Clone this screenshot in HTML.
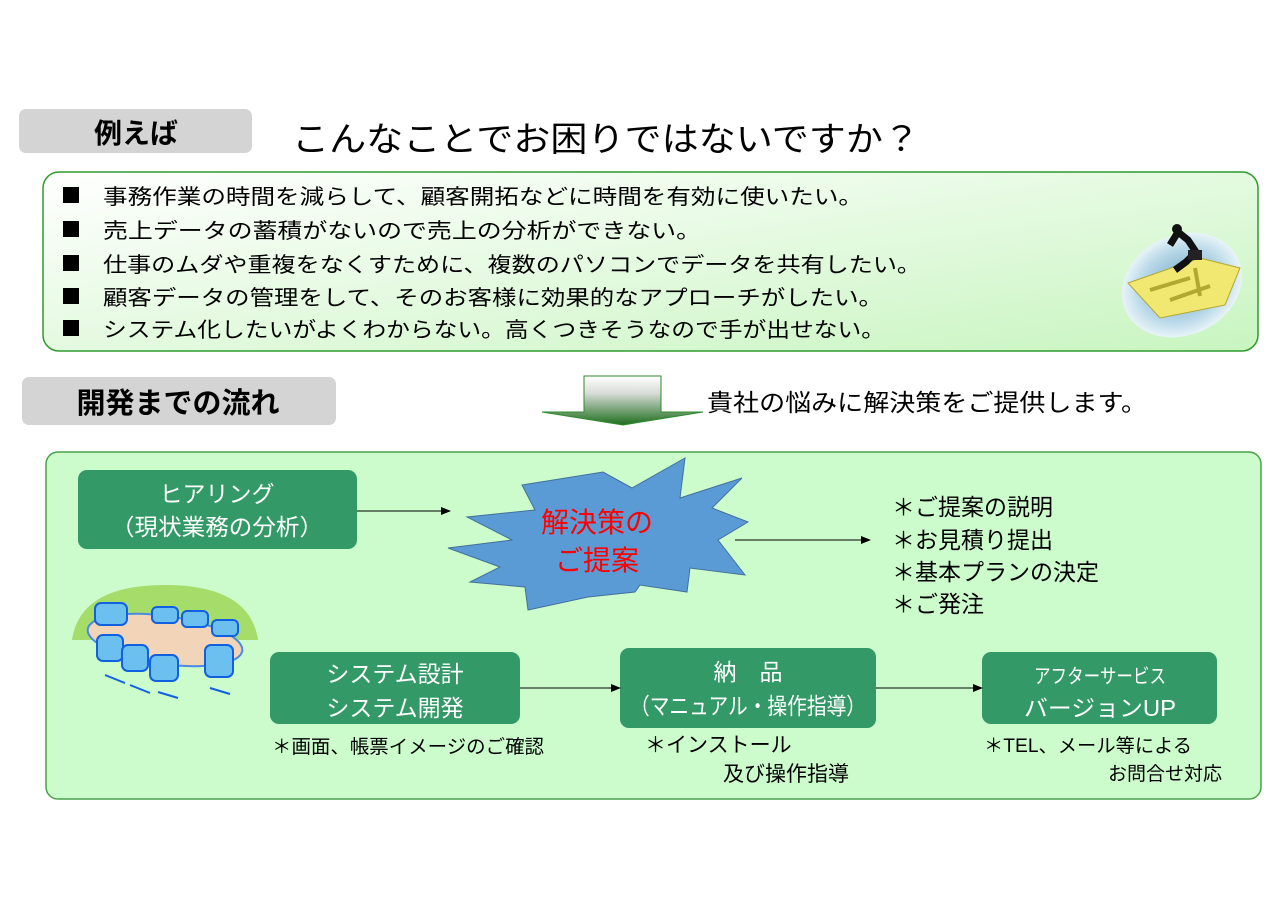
<!DOCTYPE html>
<html><head><meta charset="utf-8"><style>
html,body{margin:0;padding:0;background:#fff;}
svg{display:block;font-family:"Liberation Sans","Noto Sans CJK JP",sans-serif;}
</style></head><body>
<svg width="1280" height="905" viewBox="0 0 1280 905" xmlns="http://www.w3.org/2000/svg">
<defs>
<linearGradient id="g1" x1="0" y1="0" x2="1" y2="1">
<stop offset="0" stop-color="#ffffff"/><stop offset="0.5" stop-color="#e4fae0"/><stop offset="1" stop-color="#c8f5c0"/></linearGradient>
<linearGradient id="ga" x1="0" y1="0" x2="0" y2="1">
<stop offset="0" stop-color="#ffffff"/><stop offset="0.35" stop-color="#d8dcd8"/><stop offset="1" stop-color="#1e6e1e"/></linearGradient>
<radialGradient id="gm" cx="0.5" cy="0.5" r="0.5">
<stop offset="0" stop-color="#6fa8c0"/><stop offset="0.7" stop-color="#b8d8e8"/><stop offset="1" stop-color="#e8f4f8"/></radialGradient>
<marker id="ar" markerWidth="10" markerHeight="8" refX="9" refY="4" orient="auto" markerUnits="userSpaceOnUse"><path d="M0,0 L10,4 L0,8 z" fill="#000"/></marker>
</defs>

<rect x="19" y="109" width="233" height="44" rx="7" fill="#d4d4d4"/>
<text x="136" y="143" font-size="28" font-weight="bold" text-anchor="middle">例えば</text>
<text x="292" y="151" font-size="34" textLength="628" lengthAdjust="spacingAndGlyphs">こんなことでお困りではないですか？</text>

<rect x="43" y="172" width="1215" height="179" rx="16" fill="url(#g1)" stroke="#2e9a2e" stroke-width="1.5"/>
<g font-size="21">
<rect x="63" y="187" width="16" height="16"/><text x="103" y="204" textLength="760" lengthAdjust="spacingAndGlyphs">事務作業の時間を減らして、顧客開拓などに時間を有効に使いたい。</text>
<rect x="63" y="221" width="16" height="16"/><text x="103" y="238" textLength="598" lengthAdjust="spacingAndGlyphs">売上データの蓄積がないので売上の分析ができない。</text>
<rect x="63" y="255" width="16" height="16"/><text x="103" y="272" textLength="818" lengthAdjust="spacingAndGlyphs">仕事のムダや重複をなくすために、複数のパソコンでデータを共有したい。</text>
<rect x="63" y="288" width="16" height="16"/><text x="103" y="305" textLength="780" lengthAdjust="spacingAndGlyphs">顧客データの管理をして、そのお客様に効果的なアプローチがしたい。</text>
<rect x="63" y="320" width="16" height="16"/><text x="103" y="337" textLength="782" lengthAdjust="spacingAndGlyphs">システム化したいがよくわからない。高くつきそうなので手が出せない。</text>
</g>
<!-- maze image -->
<ellipse cx="1182" cy="285" rx="62" ry="50" fill="url(#gm)" transform="rotate(-25 1182 285)"/>
<polygon points="1128,283 1200,258 1240,268 1225,305 1160,318" fill="#f0e870" stroke="#b0a830"/>
<path d="M1150,290 L1190,278 M1170,300 L1210,286 M1195,268 L1200,296" stroke="#b0a830" stroke-width="4"/>
<path d="M1170,245 L1178,232 L1188,240 L1196,252 L1186,262 L1175,270" stroke="#111" stroke-width="7" fill="none"/>
<circle cx="1177" cy="229" r="5" fill="#111"/>
<rect x="1188" y="250" width="14" height="10" fill="#222"/>

<rect x="22" y="377" width="314" height="48" rx="7" fill="#d4d4d4"/>
<text x="178" y="413" font-size="29" font-weight="bold" text-anchor="middle">開発までの流れ</text>

<polygon points="584,376 661,376 661,412 703,412 623,425 542,412 584,412" fill="url(#ga)" stroke="#2e8a2e" stroke-width="1"/>
<text x="707" y="411" font-size="24" textLength="440" lengthAdjust="spacingAndGlyphs">貴社の悩みに解決策をご提供します。</text>

<rect x="46" y="452" width="1215" height="347" rx="12" fill="#ccfccc" stroke="#4aa04a" stroke-width="1.5"/>

<!-- conference -->
<path d="M72,640 Q80,585 165,585 Q250,585 258,640 Z" fill="#a6dc6a"/>
<ellipse cx="165" cy="640" rx="78" ry="24" fill="#f2d4b8" stroke="#4a8ae0" stroke-width="2" transform="rotate(8 165 640)"/>
<g fill="#6cc0f0" stroke="#1060e0" stroke-width="2">
<rect x="95" y="603" width="32" height="22" rx="6"/><rect x="152" y="607" width="26" height="16" rx="5"/><rect x="182" y="611" width="26" height="16" rx="5"/><rect x="212" y="620" width="26" height="16" rx="5"/>
<rect x="97" y="635" width="26" height="26" rx="6"/><rect x="122" y="645" width="26" height="26" rx="6"/><rect x="150" y="655" width="28" height="26" rx="6"/><rect x="205" y="645" width="28" height="32" rx="6"/>
</g>
<path d="M105,675 l20,8 M130,685 l20,8 M158,692 l20,6 M210,688 l20,6" stroke="#1060e0" stroke-width="2"/>

<!-- boxes -->
<g fill="#339966">
<rect x="78" y="470" width="279" height="79" rx="9"/>
<rect x="270" y="652" width="250" height="72" rx="9"/>
<rect x="620" y="648" width="256" height="80" rx="9"/>
<rect x="982" y="652" width="235" height="72" rx="9"/>
</g>
<g fill="#fff" font-size="23" text-anchor="middle">
<text x="217" y="502">ヒアリング</text>
<text x="217" y="535" textLength="212" lengthAdjust="spacingAndGlyphs">（現状業務の分析）</text>
<text x="395" y="682">システム設計</text>
<text x="395" y="716">システム開発</text>
<text x="748" y="680">納　品</text>
<text x="748" y="714" textLength="236" lengthAdjust="spacingAndGlyphs">（マニュアル・操作指導）</text>
<text x="1100" y="683" font-size="20" textLength="132" lengthAdjust="spacingAndGlyphs">アフターサービス</text>
<text x="1100" y="716" textLength="152" lengthAdjust="spacingAndGlyphs">バージョンUP</text>
</g>

<g stroke="#000" stroke-width="1" marker-end="url(#ar)">
<line x1="357" y1="511" x2="450" y2="511"/>
<line x1="735" y1="540" x2="870" y2="540"/>
<line x1="520" y1="688" x2="620" y2="688"/>
<line x1="876" y1="688" x2="982" y2="688"/>
</g>

<polygon points="522,485 603,472 632,488 685,458 680,498 742,478 712,508 748,522 718,540 745,575 690,568 687,592 640,585 635,592 588,597 528,610 525,587 470,582 500,567 448,548 512,540 467,517 535,510" fill="#5b9bd5" stroke="#41719c" stroke-width="1"/>
<g fill="#ff0000" font-size="28" text-anchor="middle">
<text x="597" y="532">解決策の</text>
<text x="597" y="570">ご提案</text>
</g>

<g font-size="23">
<text x="892" y="515">＊ご提案の説明</text>
<text x="892" y="548">＊お見積り提出</text>
<text x="892" y="580">＊基本プランの決定</text>
<text x="892" y="612">＊ご発注</text>
</g>
<g font-size="19">
<text x="272" y="753" textLength="272" lengthAdjust="spacingAndGlyphs">＊画面、帳票イメージのご確認</text>
<text x="645" y="752" font-size="21">＊インストール</text>
<text x="723" y="781" font-size="21">及び操作指導</text>
<text x="984" y="752" textLength="208" lengthAdjust="spacingAndGlyphs">＊TEL、メール等による</text>
<text x="1108" y="780">お問合せ対応</text>
</g>
</svg>
</body></html>
